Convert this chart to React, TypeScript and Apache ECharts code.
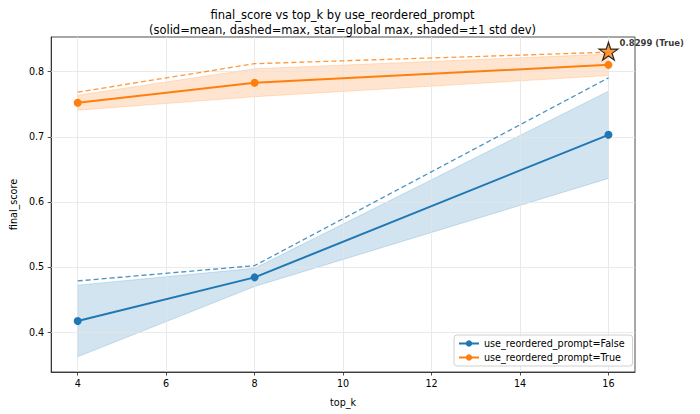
import React, { useEffect, useRef } from "react";
import * as echarts from "echarts";

// top_k values and per-group statistics of final_score
const topK = [4, 8, 16];
const falseMean = [0.417, 0.484, 0.703];
const falseStd = [0.055, 0.014, 0.067];
const falseMax = [0.4785, 0.502, 0.7905];
const trueMean = [0.7523, 0.783, 0.8105];
const trueStd = [0.0115, 0.0215, 0.0165];
const trueMax = [0.7686, 0.8123, 0.8299];

const xTicks = [4, 6, 8, 10, 12, 14, 16];
const yTicks = [0.4, 0.5, 0.6, 0.7, 0.8];

const BLUE = "#1f77b4";
const ORANGE = "#ff7f0e";
const FONT = "DejaVu Sans";
const NAME_F = "use_reordered_prompt=False";
const NAME_T = "use_reordered_prompt=True";

const pairs = (ys: number[]) => topK.map((x, i) => [x, ys[i]]);

// ±1 std band drawn as one polygon through the axis scales
function bandSeries(mean: number[], std: number[], color: string) {
  const rows = topK.map((x, i) => [x, mean[i] - std[i], mean[i] + std[i]]);
  return {
    type: "custom",
    data: rows,
    silent: true,
    z: 1,
    renderItem: (params: any, api: any) => {
      if (params.dataIndex !== 0) return null;
      const upper = rows.map((r) => api.coord([r[0], r[2]]));
      const lower = rows.map((r) => api.coord([r[0], r[1]])).reverse();
      return {
        type: "polygon",
        shape: { points: [...upper, ...lower] },
        style: {
          fill: color,
          opacity: 0.2,
          stroke: color,
          lineWidth: 1,
        },
      };
    },
  };
}

export default function App() {
  const ref = useRef<HTMLDivElement>(null);

  useEffect(() => {
    if (!ref.current) return;
    const chart = echarts.init(ref.current, null, { renderer: "svg" });

    const lows = [
      ...falseMean.map((m, i) => m - falseStd[i]),
      ...trueMean.map((m, i) => m - trueStd[i]),
    ];
    const highs = [...falseMax, ...trueMax];
    const lo = Math.min(...lows);
    const hi = Math.max(...highs);
    const pad = 0.05 * (hi - lo);
    const xPad = 0.05 * (topK[topK.length - 1] - topK[0]);

    // global best point
    const bestTrue = Math.max(...trueMax) >= Math.max(...falseMax);
    const bestArr = bestTrue ? trueMax : falseMax;
    const bestIdx = bestArr.indexOf(Math.max(...bestArr));
    const bestLabel = bestTrue ? "True" : "False";

    const gridLines = {
      silent: true,
      z: 2,
      symbol: ["none", "none"],
      label: { show: false },
      lineStyle: { color: "#e4e4e4", width: 0.8, type: "solid", opacity: 1 },
      data: [
        ...xTicks.map((v) => ({ xAxis: v })),
        ...yTicks.map((v) => ({ yAxis: v })),
      ],
    };

    const dashed = (ys: number[], color: string) => ({
      type: "line",
      data: pairs(ys),
      symbol: "none",
      lineStyle: { color, width: 1.3, type: [5, 3], opacity: 0.8 },
      silent: true,
      z: 3,
    });

    const meanLine = (name: string, ys: number[], color: string) => ({
      name,
      type: "line",
      data: pairs(ys),
      symbol: "circle",
      symbolSize: 8,
      itemStyle: { color },
      lineStyle: { color, width: 2 },
      z: 4,
    });

    chart.setOption({
      animation: false,
      textStyle: { fontFamily: FONT },
      grid: {
        left: 50,
        right: 65,
        top: 37,
        bottom: 42,
        show: true,
        borderColor: "#222",
        borderWidth: 0.8,
        backgroundColor: "transparent",
      },
      xAxis: {
        type: "value",
        min: topK[0] - xPad,
        max: topK[topK.length - 1] + xPad,
        name: "top_k",
        nameLocation: "middle",
        nameGap: 25,
        nameTextStyle: { color: "#000", fontSize: 9.6, fontFamily: FONT },
        axisLine: { show: true, lineStyle: { color: "#222", width: 0.8 } },
        axisTick: {
          show: true,
          customValues: xTicks,
          length: 3.5,
          lineStyle: { color: "#222", width: 0.8 },
        },
        axisLabel: {
          customValues: xTicks,
          color: "#000",
          fontSize: 9.6,
          fontFamily: FONT,
          margin: 6,
        },
        splitLine: { show: false },
      },
      yAxis: {
        type: "value",
        min: lo - pad,
        max: hi + pad,
        name: "final_score",
        nameLocation: "middle",
        nameGap: 32,
        nameTextStyle: { color: "#000", fontSize: 9.6, fontFamily: FONT },
        axisLine: { show: true, lineStyle: { color: "#222", width: 0.8 } },
        axisTick: {
          show: true,
          customValues: yTicks,
          length: 3.5,
          lineStyle: { color: "#222", width: 0.8 },
        },
        axisLabel: {
          customValues: yTicks,
          color: "#000",
          fontSize: 9.6,
          fontFamily: FONT,
          margin: 7,
          formatter: (v: number) => v.toFixed(1),
        },
        splitLine: { show: false },
      },
      legend: {
        data: [NAME_F, NAME_T],
        left: 454,
        top: 335,
        orient: "vertical",
        itemWidth: 20,
        itemHeight: 8,
        itemGap: 3,
        padding: [3, 8, 3, 4],
        backgroundColor: "rgba(255,255,255,0.8)",
        borderColor: "#d0d0d0",
        borderWidth: 1,
        borderRadius: 3,
        textStyle: { color: "#000", fontSize: 9.6, fontFamily: FONT, lineHeight: 11 },
      },
      graphic: [
        {
          type: "text",
          x: 342.5,
          y: 15,
          style: {
            text: "final_score vs top_k by use_reordered_prompt",
            align: "center",
            verticalAlign: "middle",
            fontSize: 11.5,
            fontFamily: FONT,
            fill: "#000",
          },
        },
        {
          type: "text",
          x: 342.5,
          y: 29.5,
          style: {
            text: "(solid=mean, dashed=max, star=global max, shaded=\u00b11 std dev)",
            align: "center",
            verticalAlign: "middle",
            fontSize: 11.5,
            fontFamily: FONT,
            fill: "#000",
          },
        },
      ],
      series: [
        bandSeries(falseMean, falseStd, BLUE),
        bandSeries(trueMean, trueStd, ORANGE),
        {
          // reference grid, drawn above the bands and below the lines
          type: "line",
          data: pairs(falseMean),
          symbol: "none",
          lineStyle: { opacity: 0 },
          silent: true,
          z: 2,
          markLine: gridLines,
        },
        dashed(falseMax, BLUE),
        dashed(trueMax, ORANGE),
        meanLine(NAME_F, falseMean, BLUE),
        meanLine(NAME_T, trueMean, ORANGE),
        {
          type: "scatter",
          data: [[topK[bestIdx], bestArr[bestIdx]]],
          symbol:
            "path://M50,0 L61.8,35.4 L100,35.4 L69.1,57.3 L80.9,92.7 L50,70.8 L19.1,92.7 L30.9,57.3 L0,35.4 L38.2,35.4 Z",
          symbolSize: [19, 18],
          symbolOffset: [0, -1],
          itemStyle: { color: ORANGE, borderColor: "#000", borderWidth: 1.2 },
          label: {
            show: true,
            position: "right",
            distance: 0,
            offset: [1, -8],
            formatter: (p: any) => `${p.value[1].toFixed(4)} (${bestLabel})`,
            fontSize: 8.5,
            fontWeight: "bold",
            fontFamily: FONT,
            color: "#000",
          },
          z: 6,
        },
      ],
    });

    return () => chart.dispose();
  }, []);

  return (
    <div
      ref={ref}
      style={{ position: "absolute", left: 0, top: 0, width: 700, height: 414 }}
    />
  );
}
